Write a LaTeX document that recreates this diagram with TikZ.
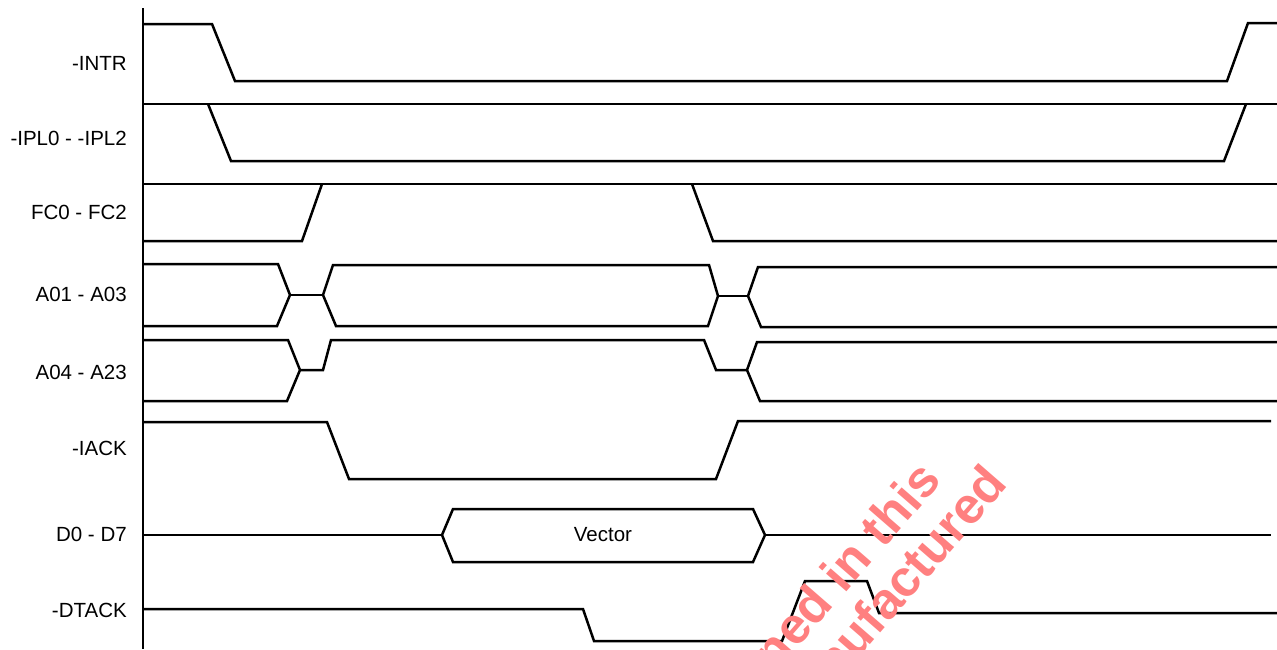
\documentclass[tikz,border=0pt]{standalone}
\usepackage{fontspec}
\setmainfont{Liberation Sans}
\begin{document}
\begin{tikzpicture}
  [x=1pt,y=-1pt,line width=2.5pt,line join=miter,
   every node/.style={font=\fontsize{20.5}{24}\selectfont,inner sep=0pt},
   signame/.style={anchor=east},
   stamp/.style={text=red!50,font=\fontsize{51}{58}\selectfont\bfseries,
     rotate=49,anchor=base east}]
  \useasboundingbox (0,0) rectangle (1277,649);

  % signal names
  \node[signame] (intr) at (128,63) {-INTR};
  \node[signame] (ipl)  at (128,138) {-IPL0 - -IPL2};
  \node[signame] (fc)   at (128,212) {FC0 - FC2};
  \node[signame] (alo)  at (128,294) {A01 - A03};
  \node[signame] (ahi)  at (128,372) {A04 - A23};
  \node[signame] (iack) at (128,448) {-IACK};
  \node[signame] (data) at (128,534) {D0 - D7};
  \node[signame] (dtack) at (128,610) {-DTACK};

  \draw (143,8) -- (143,649);

  % -INTR
  \draw (143,24) -- (212,24) -- (235,81) -- (1227,81) -- (1248,23) -- (1277,23);
  % -IPL0 - -IPL2
  \draw (143,104) -- (1277,104);
  \draw (208,104) -- (231,161) -- (1224,161) -- (1246,104);
  % FC0 - FC2
  \draw (143,184) -- (1277,184);
  \draw (143,241) -- (302,241) -- (322,184);
  \draw (692,184) -- (713,241) -- (1277,241);
  % A01 - A03
  \draw (143,264) -- (278,264) -- (290,295) -- (277,326) -- (143,326);
  \draw (290,295) -- (323,295);
  \draw (323,295) -- (333,265) -- (709,265) -- (718,296) -- (708,326) -- (336,326) -- cycle;
  \draw (718,296) -- (748,296);
  \draw (1277,267) -- (758,267) -- (748,296) -- (761,327) -- (1277,327);
  % A04 - A23
  \draw (143,340) -- (288,340) -- (300,370) -- (287,401) -- (143,401);
  \draw (300,370) -- (323,370) -- (331,340) -- (704,340) -- (716,370) -- (747,370);
  \draw (1277,342) -- (757,342) -- (747,370) -- (760,401) -- (1277,401);
  % -IACK
  \draw (143,422) -- (327,422) -- (349,479) -- (716,479) -- (738,421) -- (1271,421);
  % D0 - D7
  \node (vec) at (603,535) {Vector};
  \draw (143,535) -- (442,535);
  \draw (442,535) -- (453,509) -- (753,509) -- (765,535) -- (753,562) -- (453,562) -- cycle;
  \draw (765,535) -- (1271,535);
  % -DTACK
  \draw (143,609) -- (583,609) -- (594,641) -- (782,641) -- (805,581) -- (867,581)
    -- (879,613) -- (1277,613);

  \begin{scope}
    \clip (0,0) rectangle (1277,649);
    \node[stamp] (stampa) at (944,480) {designed in this};
    \node[stamp] (stampb) at (1010,484) {manufactured};
  \end{scope}
\end{tikzpicture}
\end{document}
